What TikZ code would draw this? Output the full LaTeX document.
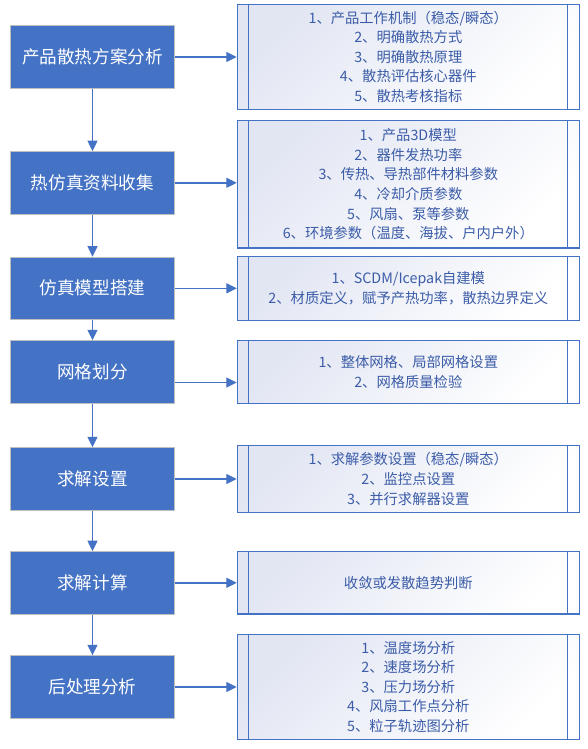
\documentclass[tikz,border=0pt]{standalone}
\usepackage{fontspec}
\setmainfont{Noto Sans CJK SC}
\usetikzlibrary{arrows.meta}
\definecolor{stepblue}{RGB}{68,114,196}
\definecolor{notetext}{RGB}{59,92,168}
\definecolor{noteshade}{RGB}{226,230,243}
\definecolor{stepedge}{RGB}{191,191,191}
\begin{document}
\begin{tikzpicture}[x=1pt,y=-1pt,
    stepbox/.style={draw=stepedge,line width=0.9pt,fill=stepblue,text=white,
      minimum width=163.6pt,minimum height=62.5pt,inner sep=0pt,
      font=\fontsize{17.6}{20}\selectfont},
    notebox/.style={draw=stepblue,line width=1.1pt,top color=noteshade,bottom color=white,
      shading angle=45,text=notetext,minimum width=342pt,inner sep=0pt,align=center,
      font=\fontsize{14.3}{19.6}\selectfont},
    arr/.style={draw=stepblue,line width=1.4pt,-{Triangle[length=10.5pt,width=10pt]}}]
    \useasboundingbox (0,0) rectangle (588,749);
    \node[stepbox] (L1) at (92.5,57) {产品散热方案分析};
    \node[stepbox] (L2) at (92.5,182.8) {热仿真资料收集};
    \node[stepbox] (L3) at (92.5,288.3) {仿真模型搭建};
    \node[stepbox] (L4) at (92.5,372) {网格划分};
    \node[stepbox] (L5) at (92.5,479) {求解设置};
    \node[stepbox] (L6) at (92.5,582.8) {求解计算};
    \node[stepbox] (L7) at (92.5,687) {后处理分析};
    \node[notebox,minimum height=105pt] (R1) at (408.3,56.8)
      {1、产品工作机制（稳态/瞬态）\\2、明确散热方式\\3、明确散热原理\\4、散热评估核心器件\\5、散热考核指标};
    \node[notebox,minimum height=127.3pt] (R2) at (408.3,184.3)
      {1、产品3D模型\\2、器件发热功率\\3、传热、导热部件材料参数\\4、冷却介质参数\\5、风扇、泵等参数\\6、环境参数（温度、海拔、户内户外）};
    \node[notebox,minimum height=63.6pt] (R3) at (408.3,288.5)
      {1、SCDM/Icepak自建模\\2、材质定义，赋予产热功率，散热边界定义};
    \node[notebox,minimum height=62.6pt] (R4) at (408.3,372)
      {1、整体网格、局部网格设置\\2、网格质量检验};
    \node[notebox,minimum height=66.6pt] (R5) at (408.3,479)
      {1、求解参数设置（稳态/瞬态）\\2、监控点设置\\3、并行求解器设置};
    \node[notebox,minimum height=62.3pt] (R6) at (408.3,582.8) {收敛或发散趋势判断};
    \node[notebox,minimum height=105pt] (R7) at (408.3,686.8)
      {1、温度场分析\\2、速度场分析\\3、压力场分析\\4、风扇工作点分析\\5、粒子轨迹图分析};
    \foreach \n in {R1,R2,R3,R4,R5,R6,R7} {
      \draw[stepblue,line width=1.1pt] ([xshift=12pt]\n.north west) -- ([xshift=12pt]\n.south west);
      \draw[stepblue,line width=1.1pt] ([xshift=-12.6pt]\n.north east) -- ([xshift=-12.6pt]\n.south east);
    }
    \draw[arr] (L1) -- (L2);
    \draw[arr] (L2) -- (L3);
    \draw[arr] (L3) -- (L4);
    \draw[arr] (L4) -- (L5);
    \draw[arr] (L5) -- (L6);
    \draw[arr] (L6) -- (L7);
    \draw[arr] (L1.east) -- (L1.east -| R1.west);
    \draw[arr] (L2.east) -- (L2.east -| R2.west);
    \draw[arr] (L3.east) -- (L3.east -| R3.west);
    \coordinate (a4) at ([yshift=-10.5pt]L4.east);
    \draw[arr] (a4) -- (a4 -| R4.west);
    \draw[arr] (L5.east) -- (L5.east -| R5.west);
    \draw[arr] (L6.east) -- (L6.east -| R6.west);
    \draw[arr] (L7.east) -- (L7.east -| R7.west);
\end{tikzpicture}
\end{document}
